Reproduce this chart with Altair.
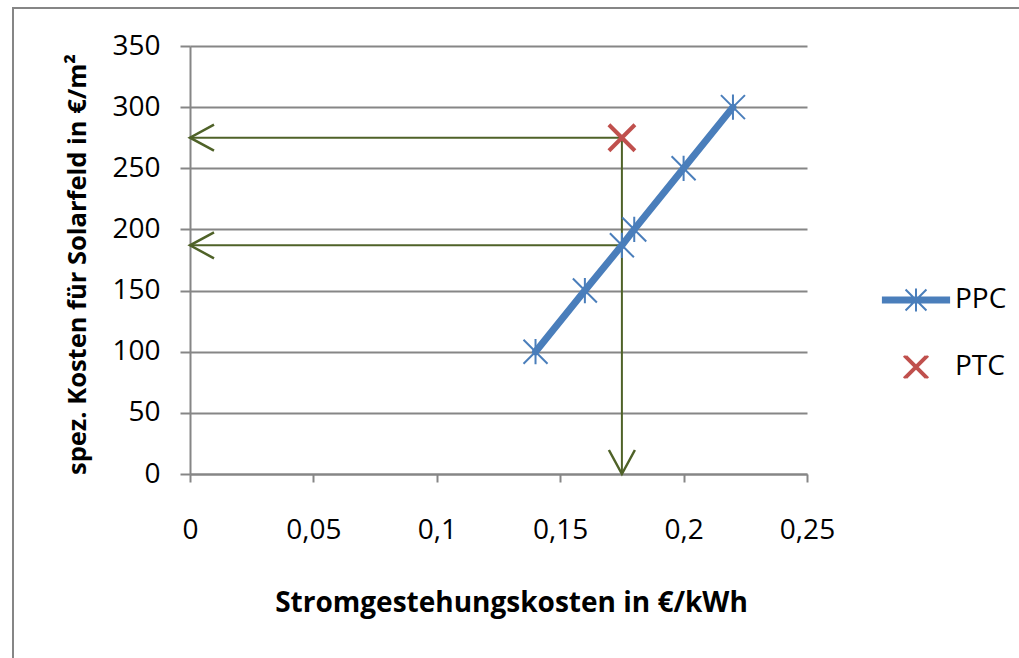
import altair as alt
import pandas as pd

# ---------------- data ----------------
series_names = ["PPC", "PTC"]
ppc_cost_kwh = [0.14, 0.16, 0.175, 0.18, 0.20, 0.22]
ppc_cost_m2 = [100, 150, 187, 200, 250, 300]
ptc_cost_kwh = [0.175]
ptc_cost_m2 = [275]
arrow_x_start = [0.175, 0.175, 0.175]
arrow_y_start = [275, 187, 275]
arrow_x_end = [0.0, 0.0, 0.175]
arrow_y_end = [275, 187, 0]
x_ticks = [0, 0.05, 0.1, 0.15, 0.2, 0.25]
y_ticks = [0, 50, 100, 150, 200, 250, 300, 350]
x_title = "Stromgestehungskosten in €/kWh"
y_title = "spez. Kosten für Solarfeld  in €/m²"

# ---------------- style ----------------
BLUE = "#4A7EBB"
RED = "#C0504D"
GREEN = "#4F6228"
GRAY = "#868686"
FONT = "Open Sans"
W, H = 617, 428

ASTERISK = "M-1,-1L1,1M1,-1L-1,1M0,-1.05L0,1.05"
XMARK = "M-1,-1L1,1M1,-1L-1,1"
CHEVRON = "M1.2,-0.65L0,0L1.2,0.65"
PPC_LEGEND = ("M-3.1,-0.23L3.1,-0.23M-3.1,-0.11L3.1,-0.11M-3.1,0L3.1,0"
              "M-3.1,0.11L3.1,0.11M-3.1,0.23L3.1,0.23"
              "M-0.95,-0.95L0.95,0.95M0.95,-0.95L-0.95,0.95M0,-1.05L0,1.05")
PTC_LEGEND = ("M-1,-1L1,1M-0.88,-1L1.12,1M-1.12,-1L0.88,1"
              "M1,-1L-1,1M1.12,-1L-0.88,1M0.88,-1L-1.12,1")

ppc_df = pd.DataFrame({"x": ppc_cost_kwh, "y": ppc_cost_m2, "series": "PPC"})
ptc_df = pd.DataFrame({"x": ptc_cost_kwh, "y": ptc_cost_m2, "series": "PTC"})
all_df = pd.concat([ppc_df, ptc_df], ignore_index=True)
arrows_df = pd.DataFrame({"x": arrow_x_start, "y": arrow_y_start,
                          "x2": arrow_x_end, "y2": arrow_y_end})
arrows_df["angle"] = [270 if (xs == xe and ye < ys) else 0
                      for xs, xe, ys, ye in zip(arrow_x_start, arrow_x_end,
                                                arrow_y_start, arrow_y_end)]

x_scale = alt.Scale(domain=[0, 0.25], nice=False, zero=True)
y_scale = alt.Scale(domain=[0, 350], nice=False, zero=True)

x_axis = alt.Axis(
    title=x_title, values=x_ticks,
    labelExpr="replace(format(datum.value, '.2~f'), '.', ',')",
    grid=False, tickSize=8, tickWidth=2, tickColor=GRAY,
    domainColor=GRAY, domainWidth=2, labelPadding=34,
    titleX=321, titleY=137, titleBaseline="alphabetic", titleAlign="center",
    titleFontSize=28, labelFlush=False,
)
y_axis = alt.Axis(
    title=y_title, values=y_ticks, grid=True, gridColor=GRAY, gridWidth=2,
    tickSize=10, tickWidth=2, tickColor=GRAY, domainColor=GRAY, domainWidth=2,
    labelPadding=20, titleX=-105, titleY=218, titleAngle=270,
    titleAlign="center", titleBaseline="alphabetic", titleFontSize=25.5,
    labelFlush=False,
)


def X(field="x"):
    return alt.X(f"{field}:Q", scale=x_scale, axis=x_axis)


def Y(field="y"):
    return alt.Y(f"{field}:Q", scale=y_scale, axis=y_axis)


frame = alt.Chart(pd.DataFrame({"frame": [0]})).mark_rect(
    filled=False, stroke=GRAY, strokeWidth=2
).encode(x=alt.value(-177), x2=alt.value(W + 240), y=alt.value(-38), y2=alt.value(H + 210))

arrow_lines = alt.Chart(arrows_df).mark_rule(color=GREEN, strokeWidth=2).encode(
    x=X(), y=Y(), x2="x2:Q", y2="y2:Q"
)

ppc_line = alt.Chart(ppc_df).mark_line(
    color=BLUE, strokeWidth=7, strokeCap="round", strokeJoin="round"
).encode(x=X(), y=Y())

ppc_points = alt.Chart(ppc_df).mark_point(
    shape=ASTERISK, size=576, filled=False, color=BLUE, strokeWidth=2, opacity=1
).encode(x=X(), y=Y())

ptc_points = alt.Chart(ptc_df).mark_point(
    shape=XMARK, size=676, filled=False, color=RED, strokeWidth=4, opacity=1
).encode(x=X(), y=Y())

arrow_heads = alt.Chart(arrows_df).mark_point(
    shape=CHEVRON, size=1600, filled=False, color=GREEN, strokeWidth=2.5, opacity=1
).encode(x=X("x2"), y=Y("y2"), angle=alt.Angle("angle:Q", scale=None))

legend = alt.Legend(
    title=None, orient="none", legendX=712, legendY=240, padding=0,
    labelFont=FONT, labelFontSize=28, labelColor="black",
    symbolSize=484, symbolStrokeWidth=2, labelOffset=25, rowPadding=36,
)

legend_layer = alt.Chart(all_df).mark_point(
    filled=False, size=484, strokeWidth=2, opacity=1
).encode(
    x=X(), y=Y(),
    color=alt.Color("series:N", scale=alt.Scale(domain=series_names, range=[BLUE, RED]), legend=legend),
    shape=alt.Shape("series:N", scale=alt.Scale(domain=series_names, range=[PPC_LEGEND, PTC_LEGEND]), legend=legend),
).transform_filter("false")

chart = alt.layer(
    frame, arrow_lines, ppc_line, ppc_points, ptc_points, arrow_heads, legend_layer
).properties(
    width=W, height=H,
    autosize=alt.AutoSizeParams(type="none"),
    padding={"left": 190, "top": 46, "right": 212, "bottom": 184},
    background="white",
).configure_view(stroke=None).configure_axis(
    labelFont=FONT, labelFontSize=28, labelColor="black",
    titleFont=FONT, titleFontWeight="bold", titleColor="black",
)

chart.save("out.html", embed_options={"renderer": "svg", "actions": False})
